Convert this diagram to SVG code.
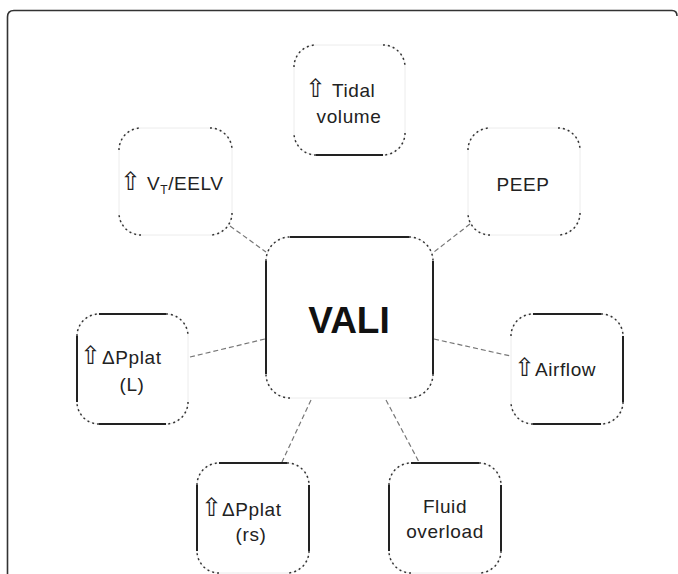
<svg xmlns="http://www.w3.org/2000/svg" width="678" height="574" viewBox="0 0 678 574">
<style>
.faint{fill:#fff;stroke:#ececec;stroke-width:1}
.corner{fill:none;stroke:#333;stroke-width:1.5;stroke-dasharray:2 3}
.edge{fill:none;stroke:#222;stroke-width:2}
.conn{fill:none;stroke:#777;stroke-width:1.2;stroke-dasharray:5 3}
.t{font-family:"Liberation Sans",Arial,sans-serif;font-size:19px;fill:#222;letter-spacing:0.6px}
.ic{font-family:"DejaVu Sans",sans-serif;font-size:25px;letter-spacing:0}
.m{text-anchor:middle}
</style>
<rect width="678" height="574" fill="#fff"/>
<path d="M7.5,574 V17 Q7.5,10.5 14,10.5 H672 Q677,10.5 677,16" fill="none" stroke="#333" stroke-width="1.6"/>

<g id="connectors">
<line class="conn" x1="230" y1="226" x2="266" y2="252"/>
<line class="conn" x1="470" y1="224" x2="434" y2="252"/>
<line class="conn" x1="190" y1="357" x2="265" y2="339"/>
<line class="conn" x1="434" y1="339" x2="515" y2="357"/>
<line class="conn" x1="311" y1="400" x2="282" y2="462"/>
<line class="conn" x1="386" y1="400" x2="419" y2="462"/>
</g>

<g id="tidal">
<rect class="faint" x="294" y="45" width="111" height="110" rx="22"/>
<path class="corner" d="M294,67 A22,22 0 0 1 316,45 M383,45 A22,22 0 0 1 405,67 M405,133 A22,22 0 0 1 383,155 M316,155 A22,22 0 0 1 294,133"/>
<path class="edge" d="M316,155 H383"/>
<text class="t" x="305" y="97"><tspan class="ic">⇧</tspan><tspan dx="6">Tidal</tspan></text>
<text class="t m" x="349" y="123">volume</text>
</g>

<g id="vteelv">
<rect class="faint" x="119" y="128" width="113" height="107" rx="22"/>
<path class="corner" d="M119,150 A22,22 0 0 1 141,128 M210,128 A22,22 0 0 1 232,150 M232,213 A22,22 0 0 1 210,235 M141,235 A22,22 0 0 1 119,213"/>
<text class="t" x="120" y="190"><tspan class="ic">⇧</tspan><tspan dx="6">V</tspan><tspan dy="4" font-size="12">T</tspan><tspan dy="-4">/EELV</tspan></text>
</g>

<g id="peep">
<rect class="faint" x="468" y="128" width="112" height="107" rx="22"/>
<path class="corner" d="M468,150 A22,22 0 0 1 490,128 M558,128 A22,22 0 0 1 580,150 M580,213 A22,22 0 0 1 558,235 M490,235 A22,22 0 0 1 468,213"/>
<text class="t m" x="523" y="191" font-size="23">PEEP</text>
</g>

<g id="vali">
<rect class="faint" x="266" y="237" width="167" height="161" rx="24"/>
<path class="corner" d="M266,261 A24,24 0 0 1 290,237 M409,237 A24,24 0 0 1 433,261 M433,374 A24,24 0 0 1 409,398 M290,398 A24,24 0 0 1 266,374"/>
<path class="edge" d="M266,261 V374 M290,237 H409 M433,261 V374"/>
<text x="349" y="333" text-anchor="middle" font-family="Liberation Sans, Arial, sans-serif" font-weight="bold" font-size="37" fill="#111">VALI</text>
</g>

<g id="pplat-l">
<rect class="faint" x="77" y="314" width="111" height="110" rx="22"/>
<path class="corner" d="M77,336 A22,22 0 0 1 99,314 M166,314 A22,22 0 0 1 188,336 M188,402 A22,22 0 0 1 166,424 M99,424 A22,22 0 0 1 77,402"/>
<path class="edge" d="M77,336 V402 M99,314 H166 M99,424 H166"/>
<text class="t" x="80" y="364"><tspan class="ic">⇧</tspan><tspan dx="1">ΔPplat</tspan></text>
<text class="t m" x="132" y="391">(L)</text>
</g>

<g id="airflow">
<rect class="faint" x="511" y="314" width="112" height="110" rx="22"/>
<path class="corner" d="M511,336 A22,22 0 0 1 533,314 M601,314 A22,22 0 0 1 623,336 M623,402 A22,22 0 0 1 601,424 M533,424 A22,22 0 0 1 511,402"/>
<path class="edge" d="M533,314 H601 M623,336 V402 M533,424 H601"/>
<text class="t" x="514" y="376"><tspan class="ic">⇧</tspan><tspan dx="0">Airflow</tspan></text>
</g>

<g id="pplat-rs">
<rect class="faint" x="197" y="463" width="112" height="110" rx="22"/>
<path class="corner" d="M197,485 A22,22 0 0 1 219,463 M287,463 A22,22 0 0 1 309,485 M309,551 A22,22 0 0 1 287,573 M219,573 A22,22 0 0 1 197,551"/>
<path class="edge" d="M197,485 V551 M219,463 H287 M309,485 V551"/>
<text class="t" x="201" y="516"><tspan class="ic">⇧</tspan><tspan dx="0">ΔPplat</tspan></text>
<text class="t m" x="251" y="541">(rs)</text>
</g>

<g id="fluid">
<rect class="faint" x="389" y="463" width="112" height="110" rx="22"/>
<path class="corner" d="M389,485 A22,22 0 0 1 411,463 M479,463 A22,22 0 0 1 501,485 M501,551 A22,22 0 0 1 479,573 M411,573 A22,22 0 0 1 389,551"/>
<path class="edge" d="M389,485 V551 M411,463 H479 M501,485 V551"/>
<text class="t m" x="445" y="513">Fluid</text>
<text class="t m" x="445" y="538">overload</text>
</g>
</svg>
